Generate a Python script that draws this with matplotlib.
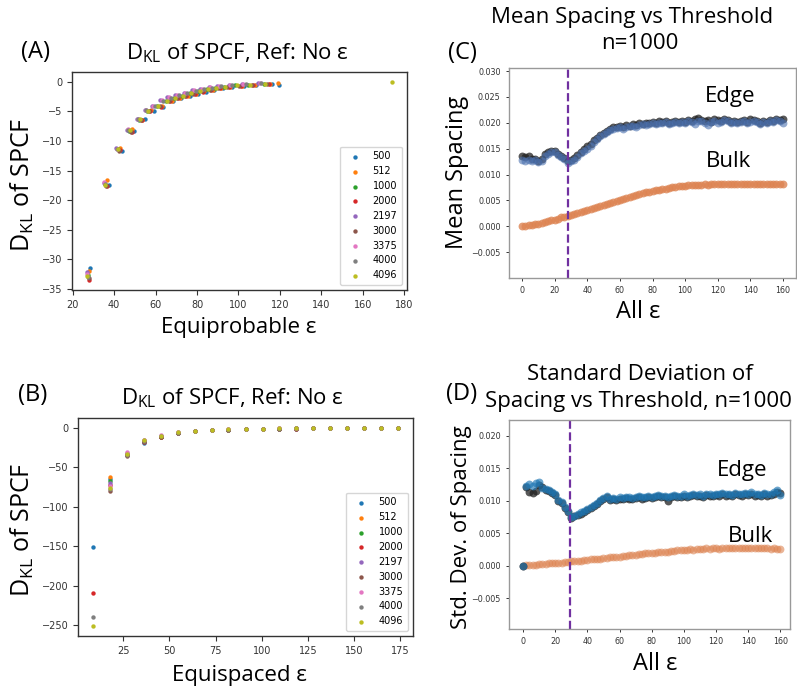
import matplotlib
matplotlib.use("Agg")
import matplotlib.pyplot as plt
import numpy as np

plt.rcParams["font.family"] = ["DejaVu Sans"]
plt.rcParams["mathtext.fontset"] = "custom"
plt.rcParams["mathtext.rm"] = "Open Sans"
plt.rcParams["mathtext.it"] = "Open Sans:italic"
plt.rcParams["mathtext.bf"] = "Open Sans:bold"

# ---------------- Data ----------------
series_names = ["500", "512", "1000", "2000", "2197", "3000", "3375", "4000", "4096"]

# Panel A: equiprobable epsilon
a_x = {
    "500":  [28.4, 37.6, 43.6, 49.8, 54.8, 59.0, 63.6, 68.4, 72.4, 76.4, 80.4, 84.4, 88.4, 92.4, 97.0, 102.6, 108.6, 116.0, 119.6],
    "512":  [27.9, 36.6, 42.8, 48.8, 53.5, 57.6, 63.0, 67.7, 71.6, 75.6, 79.6, 83.6, 87.6, 91.6, 96.1, 101.7, 107.8, 115.2, 119.0],
    "1000": [27.2, 35.6, 41.8, 47.2, 52.0, 56.0, 60.6, 65.0, 68.7, 72.7, 76.7, 80.7, 84.7, 88.7, 92.9, 98.5, 104.8, 112.4],
    "2000": [28.0, 36.4, 42.6, 48.5, 53.2, 57.3, 62.4, 67.0, 70.9, 74.9, 78.9, 82.9, 86.9, 90.9, 95.4, 101.0, 107.1, 114.5],
    "2197": [27.0, 35.0, 41.0, 46.2, 51.0, 55.0, 58.2, 62.2, 65.6, 69.6, 73.6, 77.6, 81.6, 85.6, 89.6, 95.2, 101.6, 109.4],
    "3000": [28.0, 36.2, 42.3, 48.0, 52.8, 56.8, 61.9, 66.4, 70.2, 74.2, 78.2, 82.2, 86.2, 90.2, 94.6, 100.2, 106.4, 113.9],
    "3375": [27.1, 35.2, 41.2, 46.5, 51.3, 55.3, 58.8, 62.9, 66.4, 70.4, 74.4, 78.4, 82.4, 86.4, 90.5, 96.1, 102.4, 110.2],
    "4000": [27.2, 35.4, 41.5, 46.8, 51.6, 55.6, 59.5, 63.8, 67.3, 71.3, 75.3, 79.3, 83.3, 87.3, 91.5, 97.1, 103.4, 111.1],
    "4096": [27.0, 35.8, 42.0, 47.6, 52.3, 56.3, 61.2, 65.6, 69.3, 73.3, 77.3, 81.3, 85.3, 89.3, 93.7, 99.3, 105.5, 113.0, 174.0],
}
a_y = {
    "500":  [-31.4, -17.4, -11.6, -8.3, -6.3, -4.9, -4.2, -3.3, -2.8, -2.4, -2.05, -1.65, -1.35, -1.1, -0.9, -0.7, -0.52, -0.33, -0.45],
    "512":  [-32.0, -16.5, -11.2, -8.0, -6.4, -4.8, -4.15, -3.25, -2.75, -2.35, -2.0, -1.6, -1.3, -1.05, -0.85, -0.65, -0.48, -0.3, -0.25],
    "1000": [-32.7, -17.3, -11.4, -8.3, -6.4, -5.0, -4.1, -3.2, -2.7, -2.3, -1.95, -1.55, -1.25, -1.0, -0.8, -0.6, -0.45, -0.28],
    "2000": [-33.5, -17.6, -11.5, -8.5, -6.5, -4.9, -4.2, -3.3, -2.8, -2.4, -2.05, -1.65, -1.35, -1.1, -0.9, -0.7, -0.52, -0.33],
    "2197": [-32.2, -17.1, -11.2, -8.1, -6.2, -4.7, -4.0, -3.1, -2.6, -2.2, -1.85, -1.45, -1.15, -0.9, -0.7, -0.5, -0.38, -0.22],
    "3000": [-33.2, -17.6, -11.6, -8.4, -6.4, -4.9, -4.15, -3.25, -2.75, -2.35, -2.0, -1.6, -1.3, -1.05, -0.85, -0.65, -0.48, -0.3],
    "3375": [-32.5, -17.0, -11.3, -8.0, -6.2, -4.8, -4.0, -3.1, -2.6, -2.2, -1.85, -1.45, -1.15, -0.9, -0.7, -0.5, -0.38, -0.22],
    "4000": [-33.0, -17.2, -11.3, -8.2, -6.3, -4.7, -4.05, -3.15, -2.65, -2.25, -1.9, -1.5, -1.2, -0.95, -0.75, -0.55, -0.42, -0.25],
    "4096": [-32.8, -17.4, -11.4, -8.2, -6.3, -4.9, -4.1, -3.2, -2.7, -2.3, -1.95, -1.55, -1.25, -1.0, -0.8, -0.6, -0.45, -0.28, 0.0],
}

# Panel B: equispaced epsilon
b_x = [8.8, 18.0, 27.1, 36.3, 45.4, 54.6, 63.7, 72.9, 82.0, 91.2, 100.4, 109.5, 118.7, 127.8, 137.0, 146.1, 155.3, 164.4, 173.6]
nan = float("nan")
b_y = {
    "500":  [-151, -65, -34, -19, -12, -6.5, -4.5, -3.2, -2.4, -1.8, -1.4, -1.2, -1.3, -0.6, -0.45, -0.35, -0.3, -0.25, -0.2],
    "512":  [nan, -62, -33, -17, -11, -6, -4, -3, -2.2, -1.7, -1.3, -1.0, -0.8, -0.55, -0.4, -0.3, -0.25, -0.2, -0.15],
    "1000": [nan, -67, -33, -17, -11, -6, -4, -3, -2.2, -1.7, -1.3, -1.0, -0.8, -0.55, -0.4, -0.3, -0.25, -0.2, -0.15],
    "2000": [-209, -72, -35, -18, -11.5, -7, -4.5, -3.3, -2.8, -1.9, -1.4, -1.1, -0.9, -0.6, -0.45, -0.35, -0.3, -0.25, -0.2],
    "2197": [nan, -70, -32, -16, -10, -5.5, -3.8, -2.8, -2.0, -1.5, -1.1, -0.8, -0.6, -0.45, -0.35, -0.25, -0.2, -0.15, -0.1],
    "3000": [nan, -80, -36, -18, -11, -7, -4.5, -3.3, -2.8, -1.9, -1.4, -1.1, -0.9, -0.6, -0.45, -0.35, -0.3, -0.25, -0.2],
    "3375": [nan, -74, -31, -15.5, -9.5, -5.5, -3.8, -2.8, -2.0, -1.5, -1.1, -0.8, -0.6, -0.45, -0.35, -0.25, -0.2, -0.15, -0.1],
    "4000": [-239, -78, -35, -17, -10.5, -6, -4, -3, -2.2, -1.7, -1.3, -1.0, -0.8, -0.55, -0.4, -0.3, -0.25, -0.2, -0.15],
    "4096": [-251, -76, -33, -16, -10, -5.5, -3.8, -2.8, -2.0, -1.5, -1.1, -0.8, -0.6, -0.45, -0.35, -0.25, -0.2, -0.15, -0.1],
}

# Panels C and D: thresholds 0..160 step 2
thr = list(range(0, 161, 2))
c_edge_black = [0.0135, 0.0134, 0.0136, 0.0131, 0.0130, 0.0127, 0.0131, 0.0139, 0.0143, 0.0146,
                0.0145, 0.0140, 0.0135, 0.0132, 0.0126, 0.0128, 0.0132, 0.0138, 0.0144, 0.0150,
                0.0155, 0.0160, 0.0166, 0.0171, 0.0177, 0.0181, 0.0185, 0.0188, 0.0191, 0.0192,
                0.0193, 0.0192, 0.0195, 0.0194, 0.0197, 0.0195, 0.0199, 0.0198, 0.0200, 0.0199,
                0.0202, 0.0200, 0.0203, 0.0201, 0.0203, 0.0200, 0.0202, 0.0204, 0.0201, 0.0203,
                0.0202, 0.0205, 0.0203, 0.0207, 0.0209, 0.0206, 0.0203, 0.0205, 0.0202, 0.0207,
                0.0205, 0.0204, 0.0207, 0.0205, 0.0202, 0.0204, 0.0201, 0.0203, 0.0205, 0.0202,
                0.0207, 0.0205, 0.0203, 0.0200, 0.0204, 0.0202, 0.0205, 0.0203, 0.0208, 0.0206, 0.0207]
c_edge_blue = [0.0128, 0.0127, 0.0129, 0.0126, 0.0128, 0.0125, 0.0127, 0.0136, 0.0140, 0.0143,
               0.0144, 0.0138, 0.0133, 0.0130, 0.0123, 0.0126, 0.0129, 0.0133, 0.0141, 0.0146,
               0.0150, 0.0156, 0.0163, 0.0168, 0.0174, 0.0178, 0.0182, 0.0186, 0.0188, 0.0190,
               0.0191, 0.0189, 0.0192, 0.0193, 0.0194, 0.0192, 0.0196, 0.0197, 0.0195, 0.0198,
               0.0199, 0.0197, 0.0200, 0.0199, 0.0201, 0.0198, 0.0200, 0.0202, 0.0199, 0.0201,
               0.0200, 0.0203, 0.0201, 0.0198, 0.0203, 0.0204, 0.0200, 0.0196, 0.0201, 0.0203,
               0.0199, 0.0202, 0.0205, 0.0203, 0.0200, 0.0202, 0.0199, 0.0201, 0.0203, 0.0200,
               0.0202, 0.0204, 0.0201, 0.0198, 0.0202, 0.0200, 0.0203, 0.0201, 0.0206, 0.0204, 0.0200]
c_bulk = [0.0000, 0.0001, 0.0002, 0.0003, 0.0004, 0.0005, 0.0007, 0.0008, 0.0010, 0.0012,
          0.0013, 0.0015, 0.0017, 0.0018, 0.0020, 0.0021, 0.0023, 0.0025, 0.0027, 0.0029,
          0.0031, 0.0033, 0.0035, 0.0037, 0.0039, 0.0041, 0.0043, 0.0045, 0.0047, 0.0049,
          0.0050, 0.0052, 0.0054, 0.0056, 0.0058, 0.0060, 0.0062, 0.0064, 0.0066, 0.0067,
          0.0068, 0.0070, 0.0071, 0.0072, 0.0073, 0.0074, 0.0075, 0.0076, 0.0077, 0.0078,
          0.0078, 0.0079, 0.0079, 0.0080, 0.0080, 0.0080, 0.0081, 0.0080, 0.0081, 0.0081,
          0.0082, 0.0081, 0.0082, 0.0082, 0.0081, 0.0082, 0.0082, 0.0081, 0.0082, 0.0082,
          0.0082, 0.0081, 0.0082, 0.0082, 0.0082, 0.0081, 0.0082, 0.0082, 0.0082, 0.0082, 0.0082]

d_edge_black = [0.0000, 0.0121, 0.0114, 0.0112, 0.0115, 0.0124, 0.0121, 0.0117, 0.0115, 0.0112,
                0.0109, 0.0099, 0.0096, 0.0089, 0.0082, 0.0074, 0.0076, 0.0078, 0.0080, 0.0083,
                0.0086, 0.0089, 0.0092, 0.0095, 0.0099, 0.0102, 0.0105, 0.0101, 0.0103, 0.0101,
                0.0103, 0.0102, 0.0104, 0.0103, 0.0102, 0.0104, 0.0105, 0.0102, 0.0104, 0.0106,
                0.0104, 0.0105, 0.0107, 0.0105, 0.0106, 0.0100, 0.0106, 0.0107, 0.0105, 0.0106,
                0.0108, 0.0106, 0.0107, 0.0109, 0.0107, 0.0108, 0.0106, 0.0109, 0.0108, 0.0107,
                0.0109, 0.0108, 0.0110, 0.0108, 0.0109, 0.0107, 0.0110, 0.0109, 0.0108, 0.0110,
                0.0109, 0.0111, 0.0108, 0.0109, 0.0107, 0.0110, 0.0108, 0.0109, 0.0111, 0.0113, 0.0112]
d_edge_blue = [0.0000, 0.0123, 0.0125, 0.0122, 0.0127, 0.0129, 0.0120, 0.0118, 0.0116, 0.0113,
               0.0111, 0.0101, 0.0098, 0.0091, 0.0084, 0.0075, 0.0077, 0.0079, 0.0082, 0.0085,
               0.0088, 0.0091, 0.0094, 0.0097, 0.0101, 0.0104, 0.0107, 0.0102, 0.0104, 0.0103,
               0.0105, 0.0104, 0.0106, 0.0105, 0.0104, 0.0106, 0.0107, 0.0105, 0.0106, 0.0108,
               0.0106, 0.0107, 0.0109, 0.0107, 0.0108, 0.0106, 0.0108, 0.0109, 0.0107, 0.0108,
               0.0110, 0.0108, 0.0109, 0.0111, 0.0109, 0.0110, 0.0108, 0.0111, 0.0110, 0.0109,
               0.0111, 0.0110, 0.0112, 0.0110, 0.0111, 0.0109, 0.0112, 0.0111, 0.0110, 0.0112,
               0.0111, 0.0113, 0.0110, 0.0111, 0.0109, 0.0112, 0.0110, 0.0111, 0.0113, 0.0116, 0.0109]
d_bulk = [0.0000, 0.0001, 0.0001, 0.0002, 0.0002, 0.0003, 0.0003, 0.0003, 0.0004, 0.0004,
          0.0005, 0.0005, 0.0005, 0.0006, 0.0006, 0.0007, 0.0007, 0.0008, 0.0008, 0.0009,
          0.0009, 0.0010, 0.0010, 0.0011, 0.0011, 0.0012, 0.0012, 0.0013, 0.0013, 0.0014,
          0.0014, 0.0015, 0.0015, 0.0016, 0.0016, 0.0017, 0.0018, 0.0018, 0.0019, 0.0019,
          0.0020, 0.0020, 0.0021, 0.0021, 0.0022, 0.0022, 0.0023, 0.0023, 0.0024, 0.0024,
          0.0025, 0.0025, 0.0026, 0.0025, 0.0026, 0.0026, 0.0026, 0.0027, 0.0026, 0.0027,
          0.0027, 0.0026, 0.0027, 0.0027, 0.0028, 0.0027, 0.0027, 0.0028, 0.0028, 0.0027,
          0.0028, 0.0027, 0.0028, 0.0027, 0.0027, 0.0027, 0.0027, 0.0026, 0.0027, 0.0026, 0.0026]

c_threshold = 28
d_threshold = 29.5

# ---------------- Figure ----------------
W, H = 797, 690
fig = plt.figure(figsize=(W / 100, H / 100), dpi=100)
TF = "Open Sans"


def axes_px(l, t, r, b):
    return fig.add_axes([l / W, 1 - b / H, (r - l) / W, (b - t) / H])


def ftext(x, y, s, **kw):
    kw.setdefault("fontfamily", TF)
    return fig.text(x / W, 1 - y / H, s, **kw)


def style_ab(ax):
    for sp in ax.spines.values():
        sp.set_color("#333333")
        sp.set_linewidth(1.0)
    ax.tick_params(labelsize=7, colors="#333333", length=3.5, width=0.8)


def style_cd(ax):
    for sp in ax.spines.values():
        sp.set_color("#999999")
        sp.set_linewidth(1.0)
    ax.tick_params(labelsize=5.8, colors="#333333", length=2.5, width=0.7)


# Panel A
axA = axes_px(72, 72, 407, 290)
for name in series_names:
    axA.scatter(a_x[name], a_y[name], s=10, label=name, linewidths=0)
axA.set_xticks([20, 40, 60, 80, 100, 120, 140, 160, 180])
axA.set_yticks([0, -5, -10, -15, -20, -25, -30, -35])
style_ab(axA)
axA.legend(loc="lower right", fontsize=7, markerscale=1.0, handletextpad=0.8, borderpad=0.5)

# Panel B
axB = axes_px(78, 418, 413, 636)
for name in series_names:
    axB.scatter(b_x, b_y[name], s=10, label=name, linewidths=0)
axB.set_xticks([25, 50, 75, 100, 125, 150, 175])
axB.set_yticks([0, -50, -100, -150, -200, -250])
style_ab(axB)
axB.legend(loc="lower right", fontsize=7, markerscale=1.0, handletextpad=0.8, borderpad=0.5)

# Panel C
axC = axes_px(509, 68, 796, 278)
axC.scatter(thr, c_bulk, s=32, color="#dd8452", alpha=0.8, linewidths=0)
axC.scatter(thr, c_edge_black, s=32, color="#222222", alpha=0.75, linewidths=0)
axC.scatter(thr, c_edge_blue, s=32, color="#4c72b0", alpha=0.6, linewidths=0)
axC.axvline(c_threshold, color="#7030a0", linestyle="--", linewidth=1.6)
axC.set_xlim(-8, 168)
axC.set_ylim(-0.0100, 0.0306)
axC.set_xticks([0, 20, 40, 60, 80, 100, 120, 140, 160])
axC.set_yticks([-0.005, 0.0, 0.005, 0.010, 0.015, 0.020, 0.025, 0.030])
axC.set_yticklabels(["\u22120.005", "0.000", "0.005", "0.010", "0.015", "0.020", "0.025", "0.030"])
style_cd(axC)

# Panel D
axD = axes_px(509, 420, 790, 629)
axD.scatter(thr, d_bulk, s=32, color="#dd8452", alpha=0.6, linewidths=0)
axD.scatter(thr, d_edge_black, s=32, color="#222222", alpha=0.75, linewidths=0)
axD.scatter(thr, d_edge_blue, s=32, color="#1f77b4", alpha=0.65, linewidths=0)
axD.axvline(d_threshold, color="#7030a0", linestyle="--", linewidth=1.6)
axD.set_xlim(-8.7, 166)
axD.set_ylim(-0.0097, 0.0224)
axD.set_xticks([0, 20, 40, 60, 80, 100, 120, 140, 160])
axD.set_yticks([-0.005, 0.0, 0.005, 0.010, 0.015, 0.020])
axD.set_yticklabels(["\u22120.005", "0.000", "0.005", "0.010", "0.015", "0.020"])
style_cd(axD)

# ---------------- Texts ----------------
dkl_title = "D$_{\\mathrm{KL}}$ of SPCF, Ref: No \u03b5"
dkl_label = "D$_{\\mathrm{KL}}$ of SPCF"

ftext(35, 52, "(A)", fontsize=17, ha="center", va="center")
ftext(237, 59, dkl_title, fontsize=16, ha="center", va="baseline")
ftext(22, 185, dkl_label, fontsize=18, rotation=90, ha="center", va="center")
ftext(239, 333, "Equiprobable \u03b5", fontsize=16, ha="center", va="baseline")

ftext(33, 395, "(B)", fontsize=17, ha="center", va="center")
ftext(232, 404, dkl_title, fontsize=16, ha="center", va="baseline")
ftext(22, 530, dkl_label, fontsize=18, rotation=90, ha="center", va="center")
ftext(239, 681, "Equispaced \u03b5", fontsize=16, ha="center", va="baseline")

ftext(632, 23, "Mean Spacing vs Threshold", fontsize=16, ha="center", va="baseline")
ftext(640, 49, "n=1000", fontsize=16, ha="center", va="baseline")
ftext(462, 53, "(C)", fontsize=17, ha="center", va="center")
ftext(457, 172, "Mean Spacing", fontsize=17, rotation=90, ha="center", va="center")
ftext(638, 318, "All \u03b5", fontsize=17, ha="center", va="baseline")
ftext(730, 102, "Edge", fontsize=16, ha="center", va="baseline")
ftext(729, 167, "Bulk", fontsize=16, ha="center", va="baseline")

ftext(640, 380, "Standard Deviation of", fontsize=16, ha="center", va="baseline")
ftext(638, 407, "Spacing vs Threshold, n=1000", fontsize=16, ha="center", va="baseline")
ftext(462, 394, "(D)", fontsize=17, ha="center", va="center")
ftext(461, 527, "Std. Dev. of Spacing", fontsize=16, rotation=90, ha="center", va="center")
ftext(655, 670, "All \u03b5", fontsize=17, ha="center", va="baseline")
ftext(742, 476, "Edge", fontsize=16, ha="center", va="baseline")
ftext(750, 542, "Bulk", fontsize=16, ha="center", va="baseline")

fig.savefig("out.png", dpi=100)
